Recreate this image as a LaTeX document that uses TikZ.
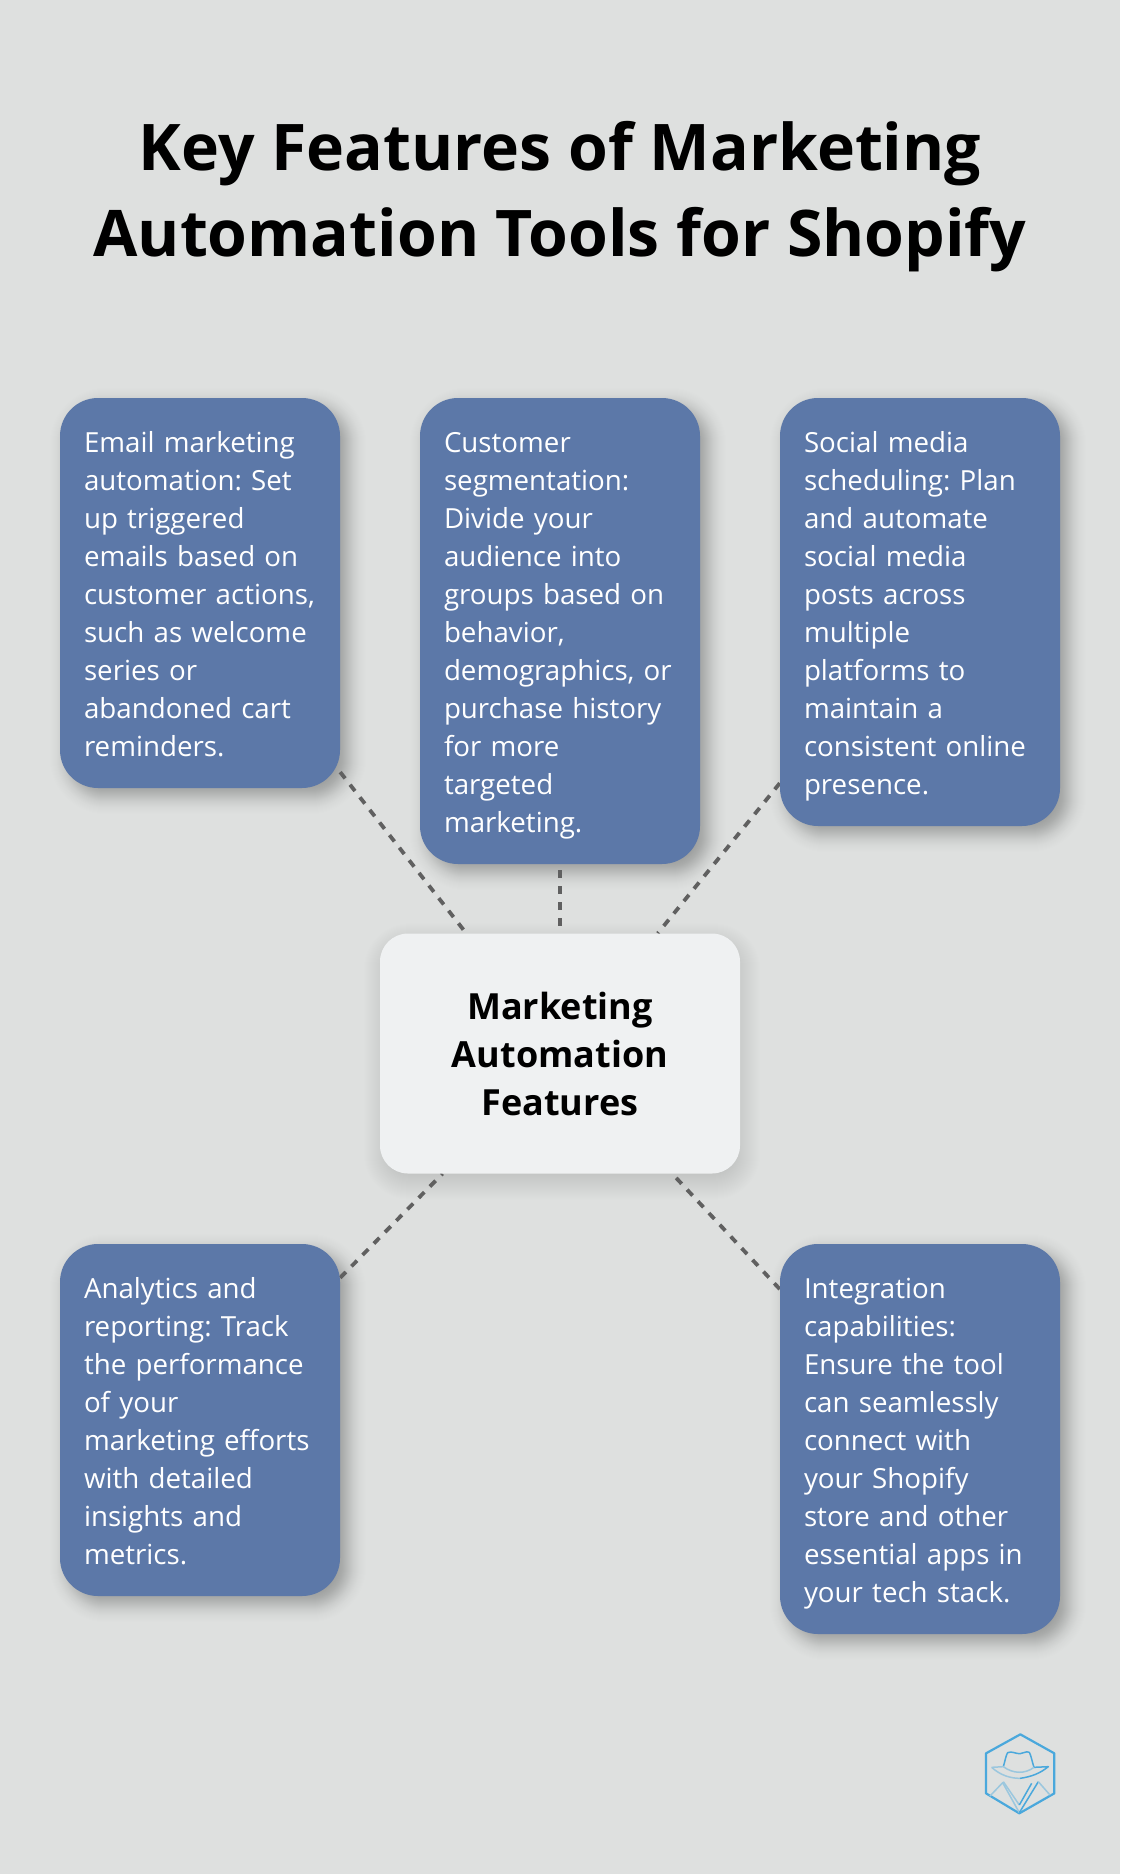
\documentclass[tikz,border=0pt]{standalone}
\usepackage{fontspec}
\setmainfont{Open Sans}
\usetikzlibrary{backgrounds}
\definecolor{bgc}{HTML}{DEE0DF}
\definecolor{boxc}{HTML}{5C78A8}
\definecolor{midc}{HTML}{EFF1F2}
\definecolor{linec}{HTML}{606060}
\definecolor{logoc}{HTML}{4AA8DC}
\pgfdeclarelayer{shadowl}
\pgfdeclarelayer{linel}
\pgfsetlayers{shadowl,linel,main}
\frenchspacing
\tikzset{
  featurebox/.style={draw=none,fill=boxc,rounded corners=38pt,minimum width=280pt,text width=232pt,inner sep=0pt,align=left,text=white,font=\frenchspacing\fontsize{27.7}{38}\selectfont,execute at begin node={\rule{0pt}{34.6pt}},execute at end node=\strut},
  hubbox/.style={fill=midc,rounded corners=28pt,minimum width=360pt,minimum height=240pt,inner sep=0pt,align=center,text=black,font=\fontsize{36}{48}\selectfont\bfseries,execute at begin node={\rule{0pt}{34.4pt}}},
  titletext/.style={inner sep=0pt,align=center,text=black,font=\fontsize{64.3}{86}\selectfont\bfseries},
  link/.style={draw=linec,line width=3.8pt,dash pattern=on 8pt off 8pt},
  logoline/.style={draw=logoc,line width=1.5pt,line join=round},
  logofade/.style={draw=logoc!45!bgc,line width=1.5pt,line join=round}
}
% node, xoff, yoff, radius, total opacity, sigma: nested rounded rectangles with Gaussian weights
\newcommand{\softshadow}[6]{%
  \pgfmathsetmacro{\rangeend}{int(2.5*#6)}%
  \pgfmathsetmacro{\rangestart}{int(-2.5*#6)}%
  \pgfmathsetmacro{\rangenext}{int(\rangestart+1)}%
  \foreach \d in {\rangestart,\rangenext,...,\rangeend}{
    \pgfmathsetmacro{\aa}{#5/(2.507*#6)*exp(-((\d)*(\d))/(2*#6*#6))}
    \pgfmathsetmacro{\rr}{max(#4+(\d),2)}
    \fill[black,fill opacity=\aa,rounded corners=\rr pt]
      ([shift={(#2-\d,#3+\d)}]#1.south west) rectangle ([shift={(#2+\d,#3-\d)}]#1.north east);
  }
}
\begin{document}
\begin{tikzpicture}[x=1pt,y=-1pt]
\useasboundingbox (0,0) rectangle (1120,1874);
\begin{pgfonlayer}{shadowl}
\fill[bgc] (0,0) rectangle (1120,1874);
\end{pgfonlayer}

\node[titletext] (title) at (560,197) {Key Features of Marketing\\Automation Tools for Shopify};

\node[featurebox,minimum height=390pt] (email) at (200,593) {Email marketing\\automation: Set\\up triggered\\emails based on\\\mbox{customer actions,}\\such as welcome\\series or\\abandoned cart\\reminders.};
\node[featurebox,minimum height=466pt] (segment) at (560,631) {Customer\\segmentation:\\Divide your\\audience into\\groups based on\\behavior,\\demographics, or\\purchase history\\for more\\targeted\\marketing.};
\node[featurebox,minimum height=428pt] (social) at (920,612) {Social media\\scheduling: Plan\\and automate\\social media\\posts across\\multiple\\platforms to\\maintain a\\consistent online\\presence.};
\node[featurebox,minimum height=352pt] (analytics) at (200,1420) {Analytics and\\reporting: Track\\the performance\\of your\\marketing efforts\\with detailed\\insights and\\metrics.};
\node[featurebox,minimum height=390pt] (integration) at (920,1439) {Integration\\capabilities:\\Ensure the tool\\can seamlessly\\connect with\\your Shopify\\store and other\\essential apps in\\your tech stack.};
\node[hubbox] (hub) at (560,1053.5) {Marketing\\Automation\\Features};

\begin{pgfonlayer}{shadowl}
\softshadow{email}{8}{8}{38}{0.28}{10}
\softshadow{segment}{8}{8}{38}{0.28}{10}
\softshadow{social}{8}{8}{38}{0.28}{10}
\softshadow{analytics}{8}{8}{38}{0.28}{10}
\softshadow{integration}{8}{8}{38}{0.28}{10}
\softshadow{hub}{2}{8}{28}{0.15}{15}
\end{pgfonlayer}

\begin{pgfonlayer}{linel}
\draw[link] (email) -- (hub);
\draw[link,dash phase=10pt] (segment) -- (hub);
\draw[link] (social) -- (hub);
\draw[link] (analytics) -- (hub);
\draw[link] (integration) -- (hub);
\end{pgfonlayer}

% logo
\begin{scope}[shift={(960,1710)},x=0.3333pt,y=-0.3333pt]
\draw[draw=logoc,line width=2.2pt,line join=round] (181,73) -- (283,130) -- (283,250) -- (178,310) -- (78,250) -- (78,130) -- cycle;
\draw[logoline] (130,170) .. controls (136,150) and (138,135) .. (143,128) .. controls (155,122) and (168,132) .. (180,131) .. controls (190,131) and (198,122) .. (208,127) .. controls (214,138) and (216,155) .. (222,172) -- (265,170) .. controls (240,190) and (215,200) .. (180,205);
\draw[logofade] (180,205) .. controls (150,205) and (120,195) .. (95,172);
\draw[logofade] (95,172) -- (130,170) .. controls (160,192) and (195,192) .. (222,172);
\draw[logofade] (130,215) -- (178,285);
\draw[logoline] (178,285) -- (215,220);
\draw[logofade] (90,258) -- (128,218) -- (178,308);
\draw[logoline] (178,308) -- (235,215);
\draw[logofade] (235,215) -- (270,255);
\end{scope}
\end{tikzpicture}
\end{document}
